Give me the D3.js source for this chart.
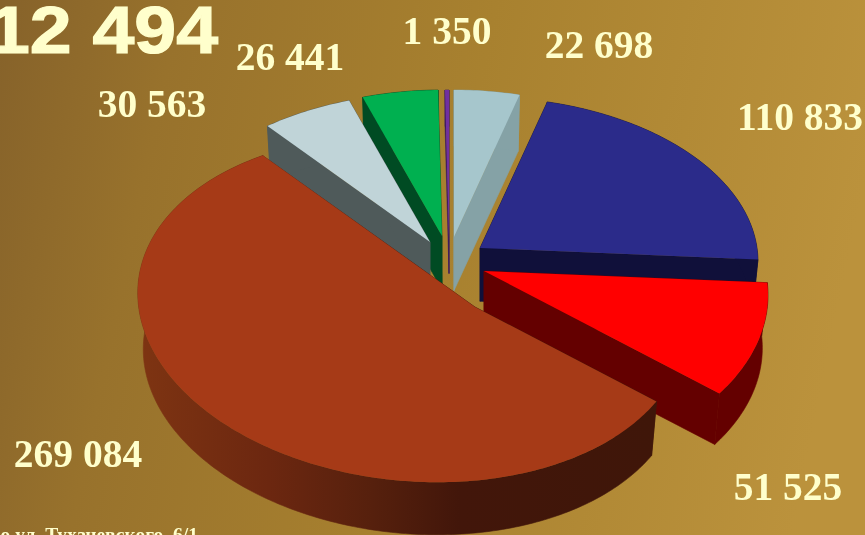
<!DOCTYPE html>
<html><head><meta charset="utf-8">
<script src="https://cdn.jsdelivr.net/npm/d3@7"></script>
<style>html,body{margin:0;padding:0;background:#a07a30;overflow:hidden}svg{display:block;filter:blur(0.4px)}</style>
</head><body><svg id="c" width="865" height="535"></svg>
<script>
// Data, in pie order clockwise from the top
const categories = ["a","b","c","d","e","f","g"];
const values = [22698,110833,51525,269084,30563,26441,1350];
const total = 512494;
const footnote = "по ул. Тухачевского, 6/1";

// Styles
const topColors  = ["#a6c6cc","#2b2b8a","#ff0000","#a63a17","#c0d4d8","#00b050","#7030a0"];
const wallColors = ["#85a2a6","#10103a","#640000","url(#brownWall)","#4f5a5a","#004b23","#3a1a60"];
// Per-slice layout: apex of the slice and the ellipse its rim lies on (exploded pie)
const apexes = [[454,237],[480,248],[484,271],[475,307],[430,242],[442,236],[449,240]];
const rims = [
  {cx:454,cy:265,rx:278,ry:175,rot:0},
  {cx:480,cy:262,rx:278,ry:165,rot:0},
  {cx:484,cy:295,rx:284,ry:176,rot:0},
  {cx:412,cy:309,rx:275,ry:172,rot:5.5},
  {cx:430,cy:268,rx:278,ry:175,rot:0},
  {cx:442,cy:265,rx:278,ry:175,rot:0},
  {cx:449,cy:265,rx:278,ry:175,rot:0}
];
const squash = 0.62, depths = [53,53,53,56,53,53,33], bottomScale = 0.98;
const labelPos = [[599,58],[800,130],[788,500],[78,467],[152,117],[290,70],[447,44]];
// draw order: back to front
const order = [6,0,5,4,1,2,3];

const svg = d3.select("#c");
const defs = svg.append("defs");
const bg = defs.append("linearGradient").attr("id","bg").attr("gradientUnits","userSpaceOnUse")
  .attr("x1",0).attr("y1",0).attr("x2",865).attr("y2",180);
[[0,"#86622a"],[0.2,"#98722c"],[0.55,"#a8812f"],[1,"#bb923c"]].forEach(s=>bg.append("stop").attr("offset",s[0]).attr("stop-color",s[1]));
const bw = defs.append("linearGradient").attr("id","brownWall").attr("gradientUnits","userSpaceOnUse")
  .attr("x1",140).attr("y1",0).attr("x2",655).attr("y2",0);
[[0,"#7e3412"],[0.25,"#6c2710"],[0.45,"#56200d"],[0.62,"#42160a"],[1,"#3f1609"]].forEach(s=>bw.append("stop").attr("offset",s[0]).attr("stop-color",s[1]));
svg.append("rect").attr("width",865).attr("height",535).attr("fill","url(#bg)");

const arcs = d3.pie().sort(null).value(d=>d)(values);
const fmt = d3.formatLocale({thousands:" ",grouping:[3],decimal:".",currency:["",""]}).format(",");

function rimPoint(i, a){
  const [ax,ay]=apexes[i], e=rims[i], t=e.rot*Math.PI/180, c=Math.cos(t), s=Math.sin(t);
  const dx=Math.sin(a), dy=-squash*Math.cos(a);
  const ox=ax-e.cx, oy=ay-e.cy;
  const u=v=>[(v[0]*c+v[1]*s)/e.rx,(-v[0]*s+v[1]*c)/e.ry];
  const [px,py]=u([ox,oy]), [qx,qy]=u([dx,dy]);
  const A=qx*qx+qy*qy, B=2*(px*qx+py*qy), C=px*px+py*py-1;
  const k=(-B+Math.sqrt(B*B-4*A*C))/(2*A);
  return [ax+k*dx, ay+k*dy];
}
const lower=(i,p)=>{const e=rims[i];return [e.cx+(p[0]-e.cx)*bottomScale, e.cy+(p[1]-e.cy)*bottomScale+depths[i]];};
const line=d3.line();

order.forEach(i=>{
  const d=arcs[i], n=Math.max(2,Math.ceil((d.endAngle-d.startAngle)*60));
  const rim=d3.range(n+1).map(j=>rimPoint(i,d.startAngle+(d.endAngle-d.startAngle)*j/n));
  const apex=apexes[i], g=svg.append("g").attr("class","slice");
  const lowA=lower(i,apex);
  // cut faces
  [rim[0],rim[n]].forEach(p=>{
    g.append("path").attr("d",line([apex,p,lower(i,p),lowA])+"Z").attr("fill",wallColors[i]).attr("stroke",wallColors[i]).attr("stroke-width",0.6);
  });
  // rim wall
  g.append("path").attr("d",line(rim.concat(rim.map(p=>lower(i,p)).reverse()))+"Z").attr("fill",wallColors[i]).attr("stroke",wallColors[i]).attr("stroke-width",0.6);
  // top face
  g.append("path").attr("d",line([apex].concat(rim))+"Z").attr("fill",topColors[i]);
});

const txt="#ffffcc";
svg.selectAll("text.val").data(values).join("text").attr("class","val")
  .attr("x",(d,i)=>labelPos[i][0]).attr("y",(d,i)=>labelPos[i][1])
  .attr("text-anchor","middle").attr("fill",txt)
  .style("font","bold 39.5px 'Liberation Serif'").text(d=>fmt(d));
svg.append("text").attr("transform","translate(218,53) scale(1.14,1)").attr("text-anchor","end").attr("fill",txt)
  .attr("stroke",txt).attr("stroke-width",1.2)
  .style("font","bold 66px 'Liberation Sans'").text(fmt(total));
svg.append("text").attr("x",198).attr("y",541).attr("text-anchor","end").attr("fill",txt)
  .style("font","bold 19.5px 'Liberation Serif'").text(footnote);
</script></body></html>
